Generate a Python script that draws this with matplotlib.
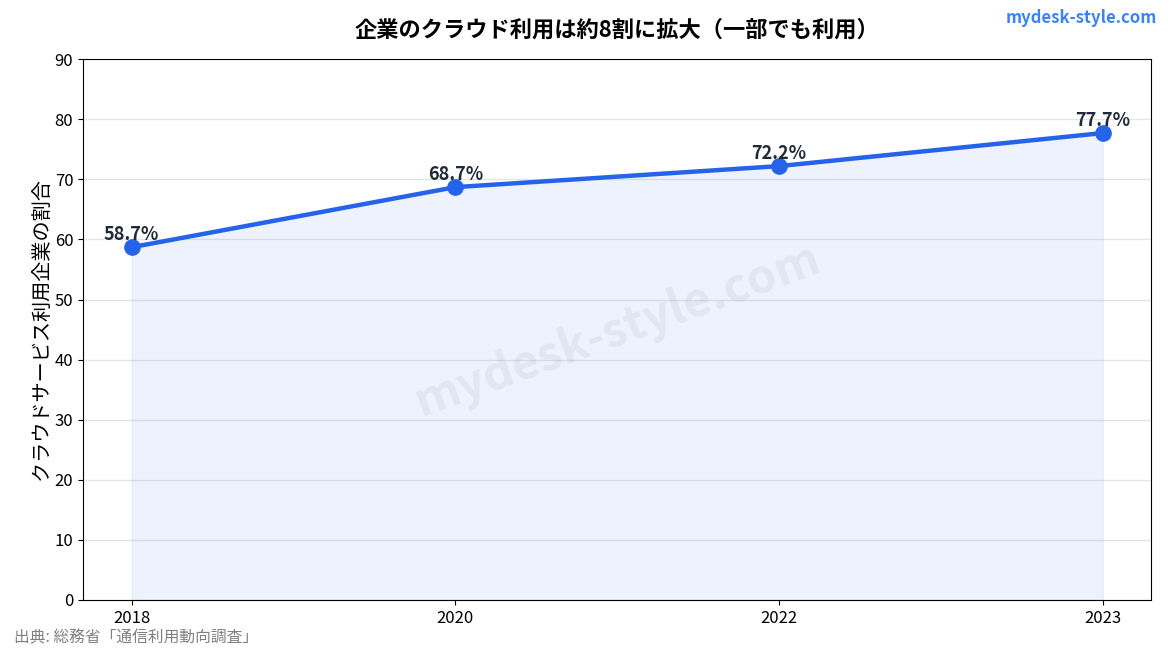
import matplotlib
matplotlib.use("Agg")
import matplotlib.pyplot as plt

plt.rcParams['font.family'] = ['Noto Sans CJK JP', 'DejaVu Sans']

# Data
years = ["2018", "2020", "2022", "2023"]
usage_rate = [58.7, 68.7, 72.2, 77.7]

line_color = "#2563eb"

fig = plt.figure(figsize=(11.7, 6.5), dpi=100)
ax = fig.add_axes([0.071, 0.077, 0.913, 0.832])

x = list(range(len(years)))
ax.fill_between(x, usage_rate, color=line_color, alpha=0.08)
ax.plot(x, usage_rate, color=line_color, linewidth=3.2, marker="o", markersize=11, zorder=3)

for xi, v in zip(x, usage_rate):
    ax.annotate(f"{v}%", (xi, v), xytext=(0, 2), textcoords="offset points",
                ha="center", va="bottom", fontsize=13, fontweight="bold", color="#1f2937", zorder=4)

ax.set_xticks(x)
ax.set_xticklabels(years)
ax.set_ylim(0, 90)
ax.set_yticks(range(0, 91, 10))
ax.tick_params(labelsize=12)
ax.grid(axis="y", color="#d1d5db", alpha=0.6, linewidth=1)
ax.set_axisbelow(True)

ax.set_ylabel("クラウドサービス利用企業の割合", fontsize=14.5, labelpad=2)
ax.set_title("企業のクラウド利用は約8割に拡大（一部でも利用）", fontsize=16, fontweight="bold", pad=16)

ax.text(0.5, 0.5, "mydesk-style.com", transform=ax.transAxes, fontsize=34, fontweight="bold",
        color="#9ca3af", alpha=0.15, rotation=20, ha="center", va="center")

fig.text(0.989, 0.972, "mydesk-style.com", ha="right", va="center", fontsize=12,
         fontweight="bold", color="#3b82f6")
fig.text(0.012, 0.019, "出典: 総務省「通信利用動向調査」", ha="left", va="center", fontsize=11.3,
         color="#808080")

fig.savefig("out.png", dpi=100)
